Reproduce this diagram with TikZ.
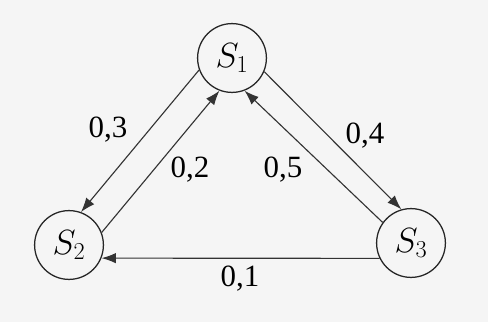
\documentclass[tikz,border=0pt]{standalone}
\usepackage{fontspec}
\setmainfont{Liberation Serif}
\usetikzlibrary{arrows.meta}

\begin{document}
\begin{tikzpicture}[
  x=0.025cm, y=-0.025cm,
  font=\fontsize{22}{26}\selectfont,
  state/.style={circle, draw=black!85, line width=0.9pt, minimum size=1.72cm, inner sep=0pt,
                font=\fontsize{25}{28}\selectfont},
  link/.style={draw=black!80, line width=0.8pt, -{Latex[length=3.6mm,width=2.6mm]}},
  prob/.style={inner sep=1pt}
]
\fill[black!4] (0,0) rectangle (488,322);
\useasboundingbox (0,0) rectangle (488,322);

\node[state] (s1) at (232,58) {$S_1$};
\node[state] (s2) at (69,245) {$S_2$};
\node[state] (s3) at (411,243) {$S_3$};

\draw[link] (s1.200) -- (s2.70);
\draw[link] (s2.21) -- (s1.-111);
\draw[link] (s1.-23) -- (s3.106);
\draw[link] (s3.144) -- (s1.-69);
\draw[link] (s3.206) -- (s2.-22);

\node[prob] (p3) at (108,130) {0,3};
\node[prob] (p2) at (190,170) {0,2};
\node[prob] (p4) at (365,136) {0,4};
\node[prob] (p5) at (283,170) {0,5};
\node[prob] (p1) at (240,279) {0,1};
\end{tikzpicture}
\end{document}
